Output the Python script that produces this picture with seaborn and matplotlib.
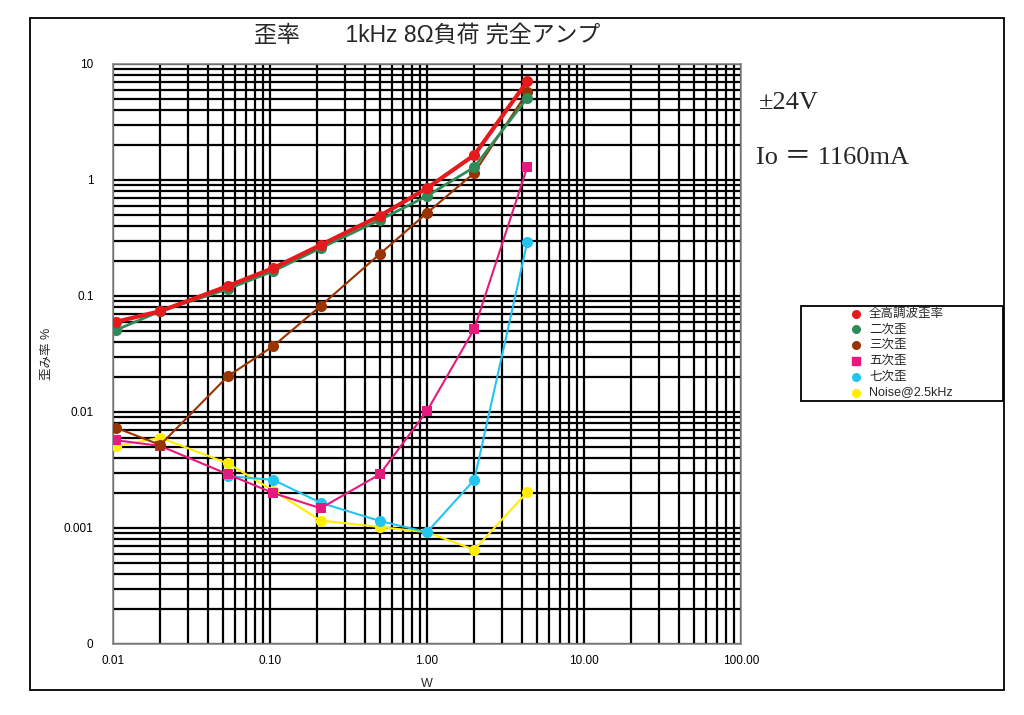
import matplotlib
matplotlib.use("Agg")
import matplotlib.pyplot as plt
import seaborn as sns
import numpy as np
from matplotlib.lines import Line2D
from matplotlib.patches import Rectangle
from matplotlib.ticker import FixedLocator, LogLocator, NullFormatter, FixedFormatter

sns.set_theme(style="white")
plt.rcParams['font.family'] = ['Liberation Sans', 'Noto Sans CJK JP', 'DejaVu Sans']

# ---- data ----
power_w = [0.0105, 0.02, 0.054, 0.105, 0.21, 0.5, 1.0, 2.0, 4.35]
thd = [0.060, 0.074, 0.122, 0.174, 0.275, 0.49, 0.85, 1.64, 7.1]
h2 = [0.051, 0.074, 0.115, 0.164, 0.259, 0.452, 0.728, 1.29, 5.1]
h3 = [0.0073, 0.0052, 0.0204, 0.037, 0.082, 0.23, 0.52, 1.15, 5.7]
h5 = [0.0057, 0.0051, 0.0029, 0.0020, 0.00148, 0.0029, 0.0102, 0.052, 1.29]
power_w7 = [0.054, 0.105, 0.21, 0.5, 1.0, 2.0, 4.35]
h7 = [0.0028, 0.0026, 0.00165, 0.00115, 0.00092, 0.0026, 0.29]
noise = [0.0051, 0.0060, 0.0036, 0.0021, 0.00116, 0.00102, 0.00092, 0.00065, 0.00204]

labels = ["全高調波歪率", "二次歪", "三次歪", "五次歪", "七次歪", "Noise@2.5kHz"]
colors = ["#e41a1c", "#2e8b57", "#993300", "#e6197f", "#22c4f0", "#ffee00"]
markers = ["o", "o", "o", "s", "o", "o"]
widths = [3.0, 2.0, 1.5, 1.5, 1.5, 1.5]
xs = [power_w, power_w, power_w, power_w, power_w7, power_w]
ys = [thd, h2, h3, h5, h7, noise]

xticks = [0.01, 0.1, 1, 10, 100]
xticklabels = ["0.01", "0.10", "1.00", "10.00", "100.00"]
yticks = [0.0001, 0.001, 0.01, 0.1, 1, 10]
yticklabels = ["0", "0.001", "0.01", "0.1", "1", "10"]

fig = plt.figure(figsize=(10.24, 7.15), dpi=100)
ax = fig.add_axes([113/1024, 1 - 644/715, (741-113)/1024, (644-64)/715])

n = len(labels)
for i in reversed(range(n)):
    sns.lineplot(x=xs[i], y=ys[i], ax=ax, color=colors[i], marker=markers[i],
                 markersize=8 if markers[i] == "o" else 7.5, markeredgewidth=0,
                 linewidth=widths[i], zorder=10 + (n - i), legend=False,
                 estimator=None, sort=False)

ax.set_xscale("log")
ax.set_yscale("log")
ax.set_xlim(0.01, 100)
ax.set_ylim(0.0001, 10)

ax.xaxis.set_major_locator(FixedLocator(xticks))
ax.xaxis.set_major_formatter(FixedFormatter(xticklabels))
ax.yaxis.set_major_locator(FixedLocator(yticks))
ax.yaxis.set_major_formatter(FixedFormatter(yticklabels))
ax.xaxis.set_minor_locator(LogLocator(base=10, subs=np.arange(2, 10), numticks=50))
ax.yaxis.set_minor_locator(LogLocator(base=10, subs=np.arange(2, 10), numticks=50))
ax.xaxis.set_minor_formatter(NullFormatter())
ax.yaxis.set_minor_formatter(NullFormatter())

ax.grid(True, which="both", color="black", linewidth=1.6)
ax.set_axisbelow(True)
ax.tick_params(which="both", length=0, labelsize=8.5, colors="black")
ax.tick_params(axis="x", pad=8)
ax.tick_params(axis="y", pad=14)
for s in ax.spines.values():
    s.set_color("#888888")
    s.set_linewidth(1.2)

ax.set_xlabel("W", fontsize=9, labelpad=8)
ax.set_ylabel("歪み率 %", fontsize=9, labelpad=8)

fig.text(427/1024, 1 - 35/715, "歪率　　1kHz 8Ω負荷 完全アンプ", fontsize=16.5,
         ha="center", va="center", family=['Liberation Sans', 'Noto Sans CJK JP'])
fig.text(759/1024, 1 - 103/715, "±24V", fontsize=19, ha="left", va="center",
         family=['Liberation Serif', 'DejaVu Serif'])
fig.text(756/1024, 1 - 158/715, "Io ＝ 1160mA", fontsize=19, ha="left", va="center",
         family=['Liberation Serif', 'Noto Sans CJK JP'])

# legend box (drawn manually to match the reference frame size)
lx0, ly0, lx1, ly1 = 801, 306, 1003, 401
fig.patches.append(Rectangle((lx0/1024, 1 - ly1/715), (lx1-lx0)/1024, (ly1-ly0)/715,
                             transform=fig.transFigure, fill=True, facecolor="white",
                             edgecolor="black", linewidth=1.3, zorder=5))
for i in range(n):
    yy = 1 - (313.5 + 15.8 * i) / 715
    fig.lines.append(Line2D([856/1024], [yy], transform=fig.transFigure,
                            color=colors[i], marker=markers[i], markersize=5.5,
                            linestyle="none", zorder=6))
    fig.text(869/1024, yy, labels[i], fontsize=9, ha="left", va="center",
             family=['Liberation Sans', 'Noto Sans CJK JP'], zorder=6)

fig.patches.append(Rectangle((30/1024, 1 - 690/715), (1004-30)/1024, (690-18)/715,
                             transform=fig.transFigure, fill=False,
                             edgecolor="black", linewidth=1.3))

fig.savefig("out.png", dpi=100)
